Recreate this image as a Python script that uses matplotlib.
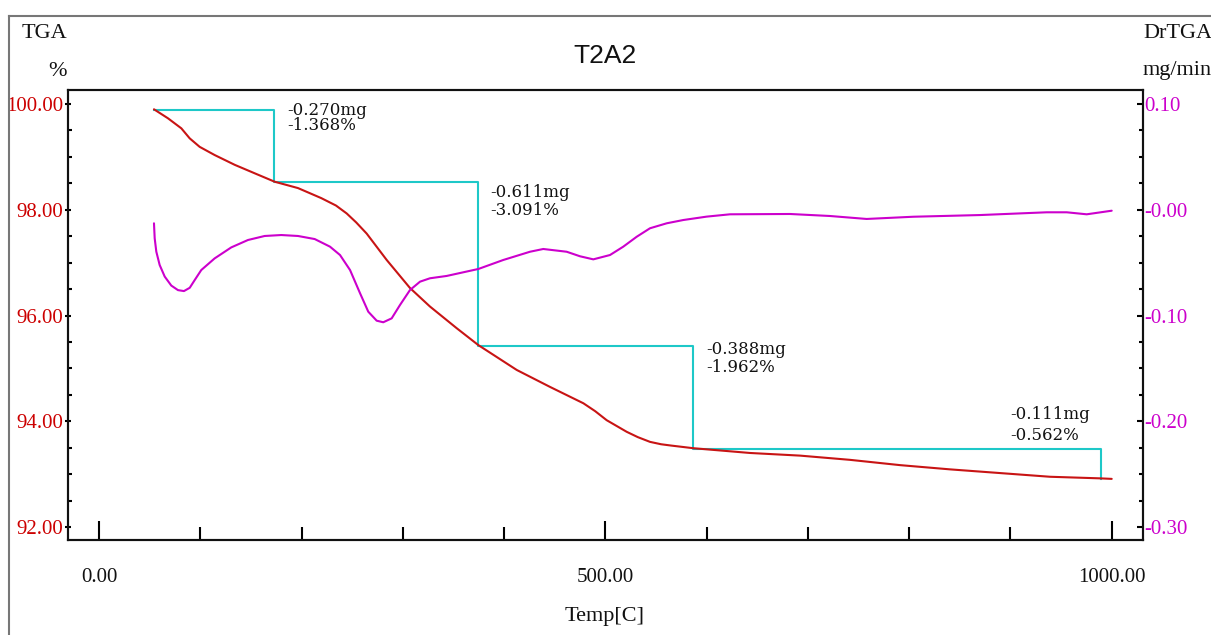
import matplotlib
matplotlib.use("Agg")
import matplotlib.pyplot as plt
from matplotlib.lines import Line2D
from matplotlib.ticker import MultipleLocator, FixedLocator

# ---------------- data ----------------
tga_temp = [54.3, 68.1, 81.3, 89.6, 99.4, 114.2, 134.0, 153.7, 173.5, 196.5, 219.5,
            234.0, 244.6, 254.0, 264.3, 284.1, 307.1, 326.8, 353.2, 374.6, 412.5,
            445.3, 478.3, 490.0, 501.3, 521.1, 532.0, 544.1, 555.0, 565.0, 586.9,
            642.8, 692.2, 741.6, 791.0, 840.3, 889.7, 939.1, 988.5, 1000.0]
tga_pct = [99.90, 99.73, 99.54, 99.35, 99.19, 99.035, 98.85, 98.69, 98.53, 98.41, 98.22,
           98.08, 97.93, 97.76, 97.55, 97.05, 96.52, 96.17, 95.76, 95.44, 94.97,
           94.65, 94.34, 94.19, 94.02, 93.80, 93.70, 93.61, 93.565, 93.54, 93.49,
           93.40, 93.35, 93.27, 93.17, 93.09, 93.02, 92.95, 92.92, 92.91]

dtga_temp = [54.3, 55.0, 56.6, 59.9, 64.9, 71.4, 78.0, 83.9, 89.6, 94.5, 101.0,
             114.2, 130.6, 147.1, 163.6, 180.0, 196.5, 213.0, 228.1, 238.0, 247.9,
             257.8, 265.9, 274.2, 280.7, 289.0, 297.2, 307.1, 317.0, 326.8, 343.3,
             374.6, 399.2, 425.6, 438.7, 461.8, 475.0, 488.1, 504.6, 517.7, 531.0,
             544.1, 560.6, 577.0, 600.0, 623.1, 682.3, 721.8, 758.0, 804.1, 870.0,
             935.8, 955.6, 975.3, 1000.0]
dtga_val = [-0.0128, -0.0270, -0.0396, -0.0522, -0.0632, -0.0717, -0.0760, -0.0769,
            -0.0738, -0.0665, -0.0570, -0.0460, -0.0356, -0.0286, -0.0248, -0.0239,
            -0.0248, -0.0277, -0.0349, -0.0428, -0.0570, -0.0790, -0.0964, -0.1049,
            -0.1064, -0.1027, -0.0901, -0.0759, -0.0680, -0.0648, -0.0626, -0.0560,
            -0.0475, -0.0397, -0.0371, -0.0397, -0.0440, -0.0469, -0.0428, -0.0349,
            -0.0255, -0.0175, -0.0128, -0.0097, -0.0065, -0.0043, -0.0040, -0.0059,
            -0.0087, -0.0066, -0.0050, -0.0024, -0.0024, -0.0043, -0.0009]

# step analysis: start temperature, step end temperatures, levels
step_start = 54.3
step_ends = [173.1, 374.5, 586.9, 989.4]
step_levels = [99.89, 98.52, 95.43, 93.47, 92.91]
step_mg = ["-0.270mg", "-0.611mg", "-0.388mg", "-0.111mg"]
step_pct = ["-1.368%", "-3.091%", "-1.962%", "-0.562%"]

left_ticks = [92.0, 94.0, 96.0, 98.0, 100.0]
left_labels = ["92.00", "94.00", "96.00", "98.00", "100.00"]
right_ticks = [-0.30, -0.20, -0.10, 0.00, 0.10]
right_labels = ["-0.30", "-0.20", "-0.10", "-0.00", "0.10"]
x_ticks = [0, 500, 1000]
x_labels = ["0.00", "500.00", "1000.00"]

title = "T2A2"

# ---------------- styling ----------------
RED = "#c81414"
RED_T = "#cc0000"
MAG = "#cc00cc"
CYAN = "#1ec8c8"
SERIF = "Liberation Serif"

W, H = 1211, 635
fig = plt.figure(figsize=(W / 100, H / 100), dpi=100)
L, R, T, B = 68, 1143, 90, 540
ax = fig.add_axes([L / W, 1 - B / H, (R - L) / W, (B - T) / H])
ax2 = ax.twinx()

ax.set_xlim(-30.6, 1030.9)
ax.set_ylim(91.754, 100.265)
ax2.set_ylim((91.754 - 98) * 0.05, (100.265 - 98) * 0.05)

# step line
sx = [step_start]
sy = [step_levels[0]]
for i, xe in enumerate(step_ends):
    sx += [xe, xe]
    sy += [step_levels[i], step_levels[i + 1]]
ax.plot(sx, sy, color=CYAN, lw=1.5, zorder=2)

ax.plot(tga_temp, tga_pct, color=RED, lw=1.5, zorder=3,
        solid_joinstyle="round", solid_capstyle="round")
ax2.plot(dtga_temp, dtga_val, color=MAG, lw=1.5, zorder=3,
         solid_joinstyle="round", solid_capstyle="round")

# annotations (layout: top-left anchor of each two-line label, line spacing)
label_pos = [(185.6, 100.03), (386.1, 98.478), (599.9, 95.52), (899.6, 94.29)]
label_spacing = [0.79, 1.03, 1.09, 1.28]
for i in range(4):
    ax.text(label_pos[i][0], label_pos[i][1], step_mg[i] + "\n" + step_pct[i],
            family="DejaVu Serif", fontsize=12, ha="left", va="top",
            linespacing=label_spacing[i], color="#111111", zorder=4)

# spines
for a in (ax, ax2):
    for s in a.spines.values():
        s.set_linewidth(1.5)
        s.set_color("#111111")

# x ticks
ax.xaxis.set_major_locator(FixedLocator(x_ticks))
ax.set_xticklabels(x_labels)
ax.xaxis.set_minor_locator(MultipleLocator(100))
ax.tick_params(axis="x", which="major", direction="in", length=13.5, width=1.5,
               pad=20, labelsize=15, labelfontfamily=SERIF, labelcolor="#111111")
ax.tick_params(axis="x", which="minor", direction="in", length=9.4, width=1.5)

# left y ticks
ax.yaxis.set_major_locator(FixedLocator(left_ticks))
ax.set_yticklabels(left_labels)
ax.yaxis.set_minor_locator(MultipleLocator(0.5))
ax.tick_params(axis="y", which="major", direction="inout", length=5, width=1.5,
               pad=1, labelsize=15, labelfontfamily=SERIF, labelcolor=RED_T)
ax.tick_params(axis="y", which="minor", direction="in", length=3, width=1.5)

# right y ticks
ax2.yaxis.set_major_locator(FixedLocator(right_ticks))
ax2.set_yticklabels(right_labels)
ax2.yaxis.set_minor_locator(MultipleLocator(0.025))
ax2.tick_params(axis="y", which="major", direction="in", length=4, width=1.5,
                pad=1, labelsize=15, labelfontfamily=SERIF, labelcolor=MAG)
ax2.tick_params(axis="y", which="minor", direction="in", length=3, width=1.5)

# texts
fig.text(604.5 / W, 1 - 56 / H, title, family="Liberation Sans", fontsize=19,
         ha="center", va="center", color="#111111")
fig.text(67 / W, 1 - 33 / H, "TGA", family=SERIF, fontsize=16, ha="right",
         va="center", color="#111111")
fig.text(67 / W, 1 - 71 / H, "%", family=SERIF, fontsize=16, ha="right",
         va="center", color="#111111")
fig.text(1143 / W, 1 - 34 / H, "DrTGA", family=SERIF, fontsize=16, ha="left",
         va="center", color="#111111")
fig.text(1143 / W, 1 - 70 / H, "mg/min", family=SERIF, fontsize=16, ha="left",
         va="center", color="#111111")
fig.text(605 / W, 1 - 617 / H, "Temp[C]", family=SERIF, fontsize=16, ha="center",
         va="center", color="#111111")

# outer frame (top and left edges)
fig.add_artist(Line2D([9 / W, 1.0], [1 - 16 / H, 1 - 16 / H], color="#777777",
                      lw=1.5, transform=fig.transFigure))
fig.add_artist(Line2D([9 / W, 9 / W], [0.0, 1 - 16 / H], color="#777777",
                      lw=1.5, transform=fig.transFigure))

fig.savefig("out.png", dpi=100)
